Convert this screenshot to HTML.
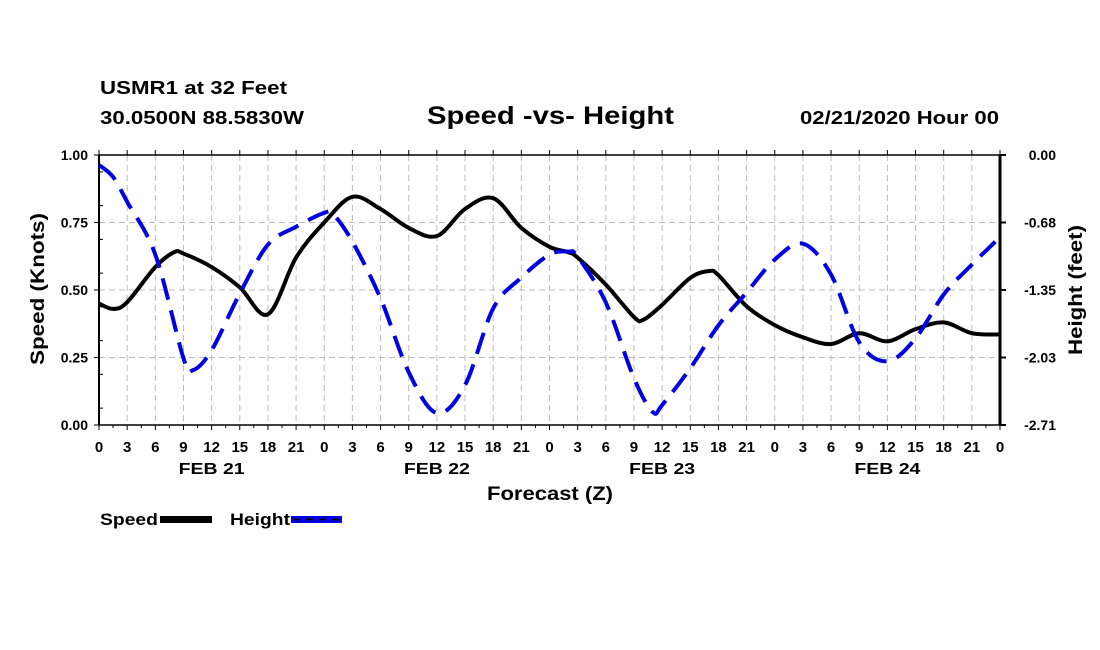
<!DOCTYPE html>
<html><head><meta charset="utf-8"><style>
body{margin:0;background:#fff;}
svg{display:block;font-family:"Liberation Sans",sans-serif;font-weight:bold;}
</style></head><body>
<svg id="chart" width="1100" height="650">
<text x="100" y="94" font-size="18" textLength="187" lengthAdjust="spacingAndGlyphs">USMR1 at 32 Feet</text>
<text x="100" y="124" font-size="18" textLength="204" lengthAdjust="spacingAndGlyphs">30.0500N 88.5830W</text>
<text x="427" y="124" font-size="25" textLength="247" lengthAdjust="spacingAndGlyphs">Speed -vs- Height</text>
<text x="800" y="124" font-size="18" textLength="199" lengthAdjust="spacingAndGlyphs">02/21/2020 Hour 00</text>
<g id="grid"></g>
<g id="axes"></g>
<g id="series"></g>
<text x="487" y="500" font-size="19" textLength="126" lengthAdjust="spacingAndGlyphs">Forecast (Z)</text>
<text transform="translate(44,365) rotate(-90)" font-size="19" textLength="152" lengthAdjust="spacingAndGlyphs">Speed (Knots)</text>
<text transform="translate(1082,355) rotate(-90)" font-size="19" textLength="130" lengthAdjust="spacingAndGlyphs">Height (feet)</text>
<g>
<text x="100" y="525" font-size="17" textLength="58" lengthAdjust="spacingAndGlyphs">Speed</text>
<rect x="160" y="516" width="52" height="7" fill="#000"/>
<text x="230" y="525" font-size="17" textLength="60" lengthAdjust="spacingAndGlyphs">Height</text>
<rect x="291" y="516" width="51" height="7" fill="#0000e0"/>
<line x1="293" y1="519.5" x2="342" y2="519.5" stroke="#000" stroke-width="1.5" stroke-dasharray="7,6"/>
</g>
</svg>
<script>
const hours = [0,1.5,3,6,8,9,12,15,18,21,24,27,30,33,36,39,42,45,48,50,51,54,57,58,60,63,65,66,69,72,75,78,81,84,87,90,93,96];
const speedValues = [0.45,0.43,0.455,0.585,0.64,0.635,0.585,0.51,0.41,0.62,0.75,0.845,0.80,0.73,0.70,0.80,0.84,0.73,0.66,0.64,0.62,0.52,0.40,0.39,0.445,0.545,0.57,0.555,0.44,0.37,0.325,0.30,0.34,0.31,0.355,0.38,0.34,0.335];
const heightHours = [0,1.5,3,6,9,10,12,15,18,21,24,25,27,30,33,36,39,42,45,48,50,51,54,57,59,60,63,66,69,72,75,78,81,84,87,90,93,95.5];
const heightValues = [-0.10,-0.22,-0.47,-1.00,-2.04,-2.16,-1.96,-1.39,-0.90,-0.72,-0.58,-0.60,-0.87,-1.44,-2.18,-2.59,-2.31,-1.54,-1.23,-1.00,-0.97,-1.02,-1.48,-2.24,-2.58,-2.51,-2.14,-1.71,-1.38,-1.05,-0.89,-1.20,-1.88,-2.07,-1.84,-1.40,-1.10,-0.87];
const speedTicks = ["0.00","0.25","0.50","0.75","1.00"];
const heightTicks = ["0.00","-0.68","-1.35","-2.03","-2.71"];
const hourLabels = ["0","3","6","9","12","15","18","21"];
const dayLabels = ["FEB 21","FEB 22","FEB 23","FEB 24"];

const X0=99,X1=1000,Y0=155,Y1=425;
const xs=h=>X0+(h/96)*(X1-X0);
const ys=v=>Y1-v*(Y1-Y0);
const yh=v=>Y0+(-v/2.71)*(Y1-Y0);
const NS="http://www.w3.org/2000/svg";
function mk(tag,attrs,parent,txt){const e=document.createElementNS(NS,tag);for(const k in attrs)e.setAttribute(k,attrs[k]);if(txt!==undefined)e.textContent=txt;parent.appendChild(e);return e;}
const grid=document.getElementById('grid'),axes=document.getElementById('axes'),series=document.getElementById('series');
for(let h=3;h<96;h+=3){const l=mk('line',{x1:xs(h),x2:xs(h),y1:Y0,y2:Y1,stroke:'#bbb','stroke-width':1,'stroke-dasharray':'6,4'},grid);

}
for(let i=1;i<4;i++){const l=mk('line',{x1:X0,x2:X1,y1:ys(i*0.25),y2:ys(i*0.25),stroke:'#bbb','stroke-width':1,'stroke-dasharray':'6,4'},grid);

}
mk('line',{x1:X0,x2:X1,y1:Y0,y2:Y0,stroke:'#000','stroke-width':1.5},axes);
mk('line',{x1:X0,x2:X1,y1:Y1,y2:Y1,stroke:'#000','stroke-width':1.5},axes);
mk('line',{x1:X0,x2:X0,y1:Y0,y2:Y1,stroke:'#000','stroke-width':2},axes);
mk('line',{x1:X1,x2:X1,y1:Y0,y2:Y1,stroke:'#000','stroke-width':3},axes);
for(let h=0;h<=96;h+=3){
 mk('line',{x1:xs(h),x2:xs(h),y1:Y1,y2:Y1+5,stroke:'#000','stroke-width':1},axes);
 mk('line',{x1:xs(h),x2:xs(h),y1:Y0,y2:Y0-5,stroke:'#000','stroke-width':1},axes);
 const t=mk('text',{x:xs(h),y:452,'font-size':15,'text-anchor':'middle'},axes,hourLabels[(h/3)%8]);
 
 
}
for(let h=1.5;h<96;h+=3){mk('line',{x1:xs(h),x2:xs(h),y1:Y1,y2:Y1+3,stroke:'#000','stroke-width':1},axes);}
dayLabels.forEach((d,i)=>{const t=mk('text',{x:xs(i*24+12)-33,y:474,'font-size':16,textLength:66,lengthAdjust:'spacingAndGlyphs'},axes,d);

});
speedTicks.forEach((s,i)=>{const y=ys(i*0.25);
 mk('line',{x1:X0-5,x2:X0,y1:y,y2:y,stroke:'#000'},axes);
 const t=mk('text',{x:88,y:y+5,'font-size':14,'text-anchor':'end'},axes,s);
 
 });
for(let i=0;i<8;i++){const y=ys(i*0.125+0.0625);mk('line',{x1:X0,x2:X0+4,y1:y,y2:y,stroke:'#000'},axes);}
heightTicks.forEach((s,i)=>{const y=Y0+i*(Y1-Y0)/4;
 mk('line',{x1:X1,x2:X1+6,y1:y,y2:y,stroke:'#000','stroke-width':2},axes);
 const t=mk('text',{x:1056,y:y+5,'font-size':14,'text-anchor':'end'},axes,s);
 
 });
function smooth(pts){let d=`M${pts[0][0]},${pts[0][1]}`;
 for(let i=0;i<pts.length-1;i++){const p0=pts[Math.max(0,i-1)],p1=pts[i],p2=pts[i+1],p3=pts[Math.min(pts.length-1,i+2)];
  d+=` C${p1[0]+(p2[0]-p0[0])/6},${p1[1]+(p2[1]-p0[1])/6} ${p2[0]-(p3[0]-p1[0])/6},${p2[1]-(p3[1]-p1[1])/6} ${p2[0]},${p2[1]}`;}
 return d;}
const sp=mk('path',{d:smooth(hours.map((h,i)=>[xs(h),ys(speedValues[i])])),fill:'none',stroke:'#000','stroke-width':4},series);


const hp=mk('path',{d:smooth(heightHours.map((h,i)=>[xs(h),yh(heightValues[i])])),fill:'none',stroke:'#0000e0','stroke-width':4,'stroke-dasharray':'22,11'},series);


</script>
</body></html>
